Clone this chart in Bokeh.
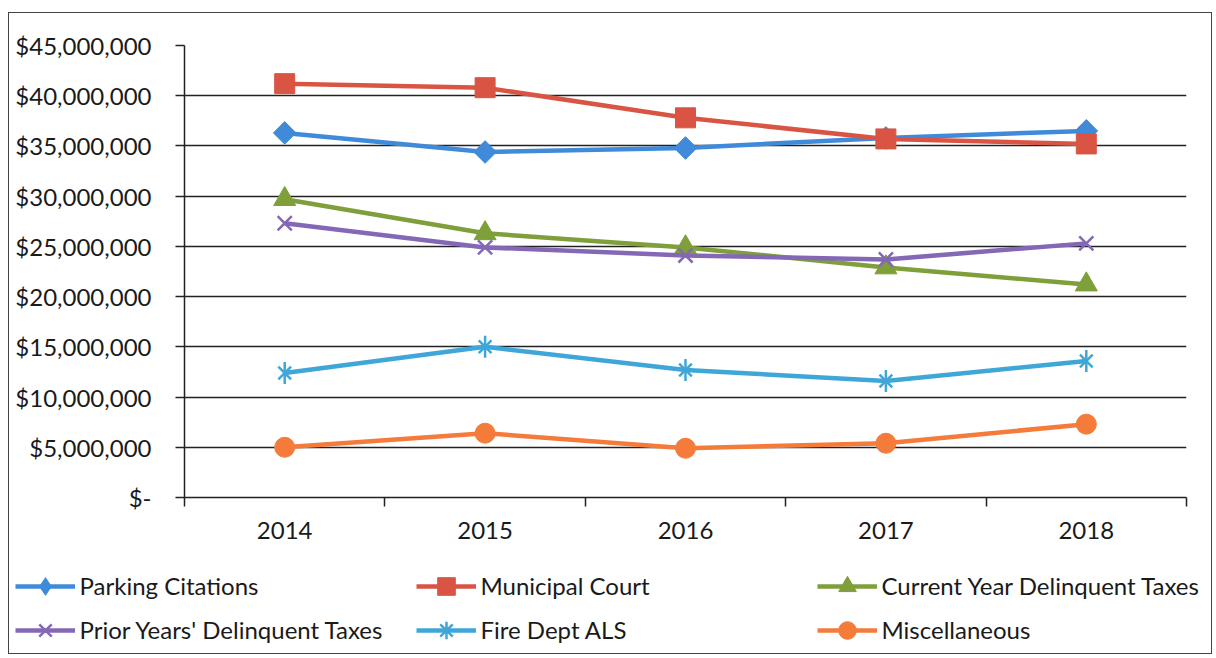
import math
from bokeh.plotting import figure
from bokeh.models import (Range1d, FixedTicker, NumeralTickFormatter, Legend, LegendItem)
from bokeh.layouts import column, row
from bokeh.embed import file_html
from bokeh.resources import INLINE

years = [2014, 2015, 2016, 2017, 2018]
parking = [36.3e6, 34.4e6, 34.8e6, 35.8e6, 36.5e6]
municipal = [41.2e6, 40.8e6, 37.8e6, 35.7e6, 35.2e6]
current_delinq = [29.7e6, 26.3e6, 24.9e6, 22.9e6, 21.2e6]
prior_delinq = [27.3e6, 24.9e6, 24.1e6, 23.7e6, 25.3e6]
fire_als = [12.4e6, 15.0e6, 12.7e6, 11.6e6, 13.6e6]
misc = [5.0e6, 6.4e6, 4.9e6, 5.4e6, 7.3e6]

# (label, values, colour, plot markers [(marker, size, angle)], legend markers [(marker, size)])
series = [
    ("Parking Citations", parking, "#3F8BD9",
     [("square", 16, math.pi / 4)], [("diamond", 24)]),
    ("Municipal Court", municipal, "#DA5443",
     [("square", 20, 0)], [("square", 20)]),
    ("Current Year Delinquent Taxes", current_delinq, "#7E9F3A",
     [("triangle", 22, 0)], [("triangle", 22)]),
    ("Prior Years' Delinquent Taxes", prior_delinq, "#8467B5",
     [("x", 20, 0)], [("x", 20)]),
    ("Fire Dept ALS", fire_als, "#3FA6D8",
     [("x", 18, 0), ("dash", 22, math.pi / 2)], [("asterisk", 20)]),
    ("Miscellaneous", misc, "#F47B3A",
     [("circle", 20, 0)], [("circle", 20)]),
]

FONT = "Lato"
W = 1202

p = figure(width=W, height=546, output_backend="svg", toolbar_location=None,
           x_range=Range1d(2013.5, 2018.5), y_range=Range1d(0, 45e6),
           min_border_left=175, min_border_right=25, min_border_top=32, min_border_bottom=62)
p.outline_line_color = None
p.background_fill_color = "white"
p.border_fill_color = "white"

xa = p.xaxis[0]
xa.ticker = FixedTicker(ticks=years, minor_ticks=[2013.5, 2014.5, 2015.5, 2016.5, 2017.5, 2018.5])
xa.major_tick_out = 0
xa.major_tick_in = 0
xa.minor_tick_out = 9
xa.minor_tick_in = 0
xa.minor_tick_line_color = "#222"
xa.minor_tick_line_width = 1.5
xa.axis_line_color = "#222"
xa.axis_line_width = 1.5
xa.major_label_text_font = FONT
xa.major_label_text_font_size = "24px"
xa.major_label_text_color = "#1a1a1a"
xa.major_label_standoff = 15

ya = p.yaxis[0]
ya.ticker = FixedTicker(ticks=[i * 5e6 for i in range(10)])
ya.formatter = NumeralTickFormatter(format="$0,0")
ya.major_label_overrides = {0: "$-"}
ya.major_tick_out = 9
ya.major_tick_in = 0
ya.minor_tick_line_color = None
ya.major_tick_line_color = "#222"
ya.major_tick_line_width = 1.5
ya.axis_line_color = "#222"
ya.axis_line_width = 1.5
ya.major_label_text_font = FONT
ya.major_label_text_font_size = "24px"
ya.major_label_text_color = "#1a1a1a"
ya.major_label_standoff = 24

p.xgrid.grid_line_color = None
p.ygrid.ticker = FixedTicker(ticks=[i * 5e6 for i in range(10)])
p.ygrid.grid_line_color = "#222"
p.ygrid.grid_line_width = 1.5

# legend strip (its frame shows no data: the series lie outside its ranges)
lg = figure(width=W, height=94, output_backend="svg", toolbar_location=None,
            x_range=Range1d(0, 1), y_range=Range1d(0, 1),
            x_axis_location=None, y_axis_location=None,
            min_border_left=0, min_border_right=0, min_border_top=0, min_border_bottom=0)
lg.outline_line_color = None
lg.xgrid.grid_line_color = None
lg.ygrid.grid_line_color = None
lg.background_fill_color = "white"
lg.border_fill_color = "white"

items = []
for name, vals, color, markers, lmarkers in series:
    p.line(years, vals, line_color=color, line_width=4.5)
    for marker, size, angle in markers:
        lw = 2.5 if marker in ("x", "dash") else 1
        p.scatter(years, vals, marker=marker, size=size, angle=angle, fill_color=color,
                  line_color=color, line_width=lw)
    rs = [lg.line(years, vals, line_color=color, line_width=4.5)]
    for marker, size in lmarkers:
        lw = 2.5 if marker in ("x", "asterisk") else 1
        rs.append(lg.scatter(years, vals, marker=marker, size=size,
                             fill_color=color, line_color=color, line_width=lw))
    items.append(LegendItem(label=name, renderers=rs))

legend = Legend(items=items, orientation="horizontal", ncols=3,
                location=(5.5, 1.5), padding=0, margin=0, spacing=0,
                glyph_width=60, glyph_height=44, label_height=44, label_width=336,
                label_standoff=5, background_fill_alpha=0, border_line_color=None,
                label_text_font=FONT, label_text_font_size="24px",
                label_text_color="#1a1a1a")
lg.add_layout(legend, "center")

layout = column(row(p), row(lg), spacing=0,
                styles={"border": "1.5px solid #444", "margin-left": "8px", "margin-top": "12px"})

open("out.html", "w").write(file_html(layout, INLINE))
